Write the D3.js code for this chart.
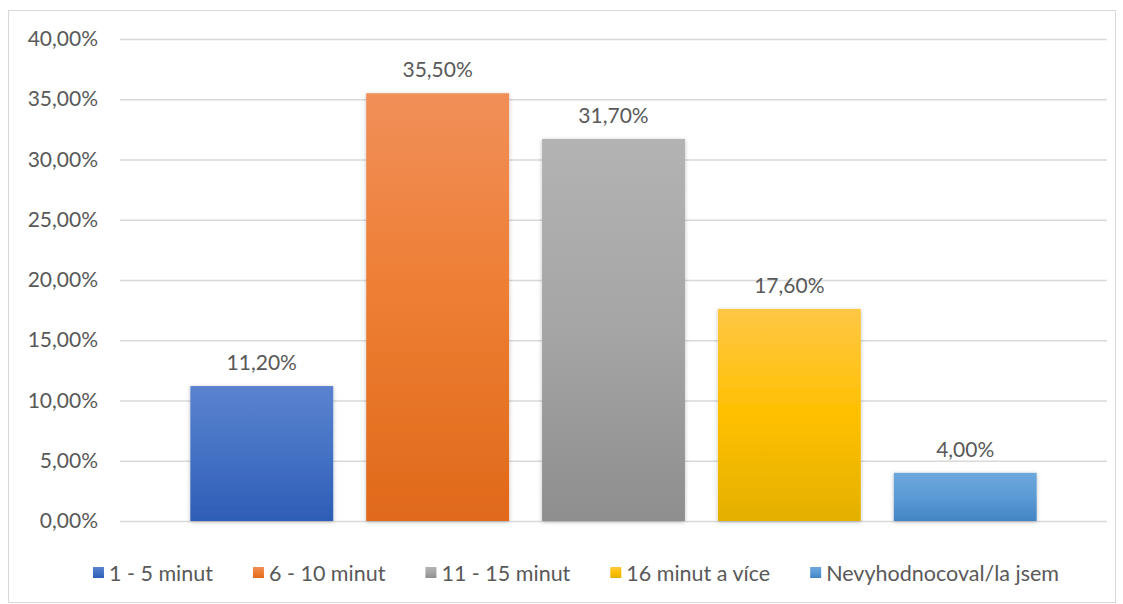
<!DOCTYPE html>
<html>
<head>
<meta charset="utf-8">
<script src="https://cdn.jsdelivr.net/npm/d3@7"></script>
<style>
  body { margin: 0; background: #fff; }
  text { font-family: Lato, "Open Sans", sans-serif; fill: #595959; }
</style>
</head>
<body>
<div id="chart"></div>
<script>
const categories = ['1 - 5 minut', '6 - 10 minut', '11 - 15 minut', '16 minut a více', 'Nevyhodnocoval/la jsem'];
const values = [0.112, 0.355, 0.317, 0.176, 0.04];
const yTicks = [0, 0.05, 0.10, 0.15, 0.20, 0.25, 0.30, 0.35, 0.40];
// top, middle, bottom of each bar's gradient
const colors = [
  ['#5b82d0', '#4472c4', '#2e5db6'],
  ['#f18f59', '#ed7d31', '#e0691a'],
  ['#b3b3b3', '#a5a5a5', '#8e8e8e'],
  ['#ffc745', '#ffc000', '#e3b000'],
  ['#6da7dd', '#5b9bd5', '#4385c4']
];

const width = 1123;
const height = 604;
const margin = { top: 39, right: 16, bottom: 83, left: 120 };

const fmt = v => (v * 100).toFixed(2).replace('.', ',') + '%';

const svg = d3.select('#chart')
  .append('svg')
  .attr('width', width)
  .attr('height', height);

const defs = svg.append('defs');
colors.forEach((c, i) => {
  const g = defs.append('linearGradient')
    .attr('id', 'grad' + i)
    .attr('x1', 0).attr('y1', 0).attr('x2', 0).attr('y2', 1);
  g.append('stop').attr('offset', '0%').attr('stop-color', c[0]);
  g.append('stop').attr('offset', '50%').attr('stop-color', c[1]);
  g.append('stop').attr('offset', '100%').attr('stop-color', c[2]);
});
const shadow = defs.append('filter').attr('id', 'shadow')
  .attr('x', '-10%').attr('y', '-10%').attr('width', '120%').attr('height', '120%');
shadow.append('feDropShadow')
  .attr('dx', 0).attr('dy', 1).attr('stdDeviation', 2)
  .attr('flood-color', '#000').attr('flood-opacity', 0.25);

// chart border
svg.append('rect')
  .attr('x', 8.5).attr('y', 10.5)
  .attr('width', width - 16).attr('height', height - 12)
  .attr('fill', 'none')
  .attr('stroke', '#d9d9d9');

const x = d3.scaleBand()
  .domain(categories)
  .range([margin.left, width - margin.right])
  .paddingInner(0.1875)
  .paddingOuter(0.4);

const y = d3.scaleLinear()
  .domain([0, 0.40])
  .range([height - margin.bottom, margin.top]);

// gridlines + y labels
svg.append('g')
  .attr('transform', `translate(${margin.left}, 0)`)
  .call(d3.axisLeft(y).tickValues(yTicks).tickFormat(fmt)
    .tickSize(-(width - margin.left - margin.right)).tickPadding(22))
  .call(g => g.select('.domain').remove())
  .call(g => g.selectAll('.tick line').attr('stroke', '#d9d9d9').attr('stroke-width', 1.5))
  .call(g => g.selectAll('.tick text')
    .attr('font-family', 'Lato, sans-serif')
    .attr('font-size', 21)
    .attr('fill', '#595959'));

// bars
svg.append('g')
  .selectAll('rect')
  .data(values)
  .join('rect')
    .attr('x', (d, i) => x(categories[i]))
    .attr('y', d => y(d))
    .attr('width', x.bandwidth())
    .attr('height', d => y(0) - y(d))
    .attr('fill', (d, i) => `url(#grad${i})`)
    .attr('filter', 'url(#shadow)');

// data labels
svg.append('g')
  .selectAll('text')
  .data(values)
  .join('text')
    .attr('x', (d, i) => x(categories[i]) + x.bandwidth() / 2)
    .attr('y', d => y(d) - 16)
    .attr('text-anchor', 'middle')
    .attr('font-size', 21)
    .text(fmt);

// legend
const legend = svg.append('g').attr('transform', 'translate(0, 573)');
const items = legend.selectAll('g')
  .data(categories)
  .join('g');
items.append('rect')
  .attr('y', -6)
  .attr('width', 11).attr('height', 11)
  .attr('fill', (d, i) => `url(#grad${i})`);
items.append('text')
  .attr('x', 16)
  .attr('dy', '0.35em')
  .attr('font-size', 21.5)
  .text(d => d);

const gap = 40;
let widths = [];
items.each(function () {
  widths.push(16 + d3.select(this).select('text').node().getComputedTextLength());
});
const total = d3.sum(widths) + gap * (widths.length - 1);
let cx = 576 - total / 2;
items.attr('transform', (d, i) => {
  const t = `translate(${cx}, 0)`;
  cx += widths[i] + gap;
  return t;
});
</script>
</body>
</html>
